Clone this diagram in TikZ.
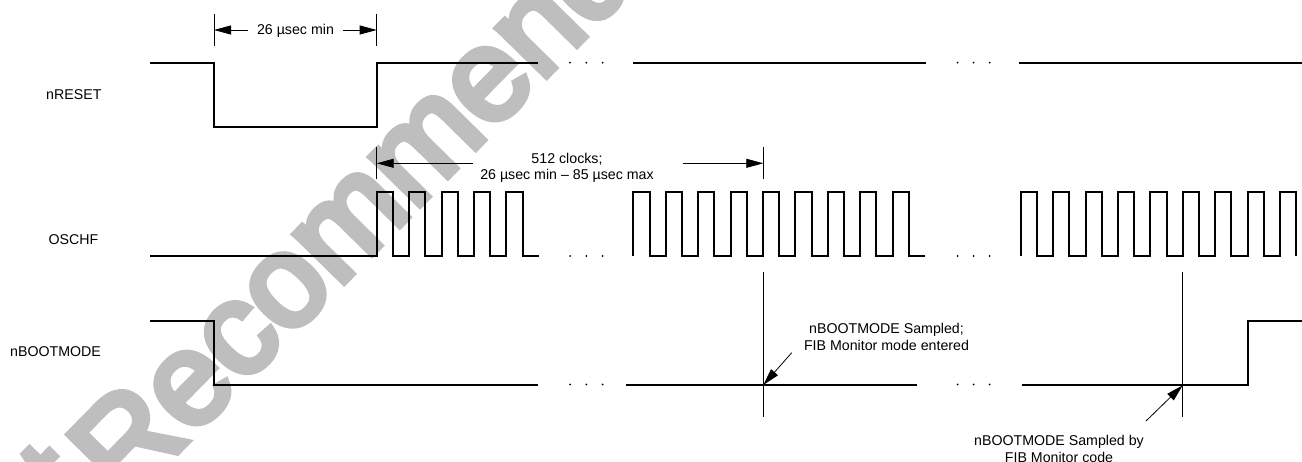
\documentclass[tikz,border=0pt]{standalone}
\usepackage{fontspec}
\setmainfont{Liberation Sans}
\usetikzlibrary{arrows.meta}
\definecolor{wmgray}{RGB}{190,190,190}
\newcommand{\wmon}{\special{pdf:literal direct 2 Tr 7 w}}
\newcommand{\wmoff}{\special{pdf:literal direct 0 Tr 1 w}}
\begin{document}
\begin{tikzpicture}[x=1pt,y=-1pt,
  sig/.style={line width=2pt,line join=miter,line cap=butt},
  thin/.style={line width=0.8pt},
  dimarrow/.style={line width=0.8pt,-{Triangle[length=17pt,width=9pt]}},
  lbl/.style={font=\fontsize{14.2}{16.6}\selectfont,inner sep=0pt,anchor=base west},
  txt/.style={font=\fontsize{14.2}{16.6}\selectfont,inner sep=0pt,anchor=base,align=center},
  wmark/.style={font=\fontsize{130}{130}\selectfont,text=wmgray,inner sep=0pt,rotate=45.5},
  dotm/.style={fill=black}]
\useasboundingbox (0,0) rectangle (1302,462);
% watermark
\node[wmark,anchor=base east] (wm1) at (100,497) {\wmon Not\wmoff};
\node[wmark,anchor=base west] (wm2) at (125,505) {\wmon Recommended\wmoff};
% labels
\node[lbl] (lreset) at (46,99.3) {nRESET};
\node[lbl] (losc) at (48.3,245) {OSCHF};
\node[lbl] (lboot) at (10,357) {nBOOTMODE};
% nRESET
\draw[sig] (150,62.7) -- (214,62.7) -- (214,127) -- (376.7,127) -- (376.7,62.7) -- (537.7,62.7);
\draw[sig] (633.3,62.7) -- (925.7,62.7);
\draw[sig] (1019,62.7) -- (1302,62.7);
% OSCHF
\draw[sig] (150,256) -- (376.7,256) \foreach \i in {1,...,5} { -- ++(0,-64) -- ++(16.2,0) -- ++(0,64) -- ++(16.2,0) };
\draw[sig] (633.3,256) \foreach \i in {1,...,9} { -- ++(0,-64) -- ++(16.2,0) -- ++(0,64) -- ++(16.2,0) };
\draw[sig] (1020.7,256) \foreach \i in {1,...,8} { -- ++(0,-64) -- ++(16.2,0) -- ++(0,64) -- ++(16.2,0) } -- ++(0,-64) -- ++(16.2,0) -- ++(0,64);
% nBOOTMODE
\draw[sig] (150,320.7) -- (214,320.7) -- (214,385) -- (537.7,385);
\draw[sig] (626,385) -- (917,385);
\draw[sig] (1021.7,385) -- (1247.7,385) -- (1247.7,320.7) -- (1302,320.7);
% dots
\foreach \y in {62.7,256,384.5} {
  \foreach \x in {570,586.3,602.6} { \fill[dotm] (\x,\y) circle (1pt); }
  \foreach \x in {957.5,973.5,989.7} { \fill[dotm] (\x,\y) circle (1pt); }
}
% 26 usec min dimension
\coordinate (t1a) at (214,14); \coordinate (t1b) at (214,46);
\coordinate (t2a) at (376.7,14); \coordinate (t2b) at (376.7,46);
\draw[thin] (t1a) -- (t1b);
\draw[thin] (t2a) -- (t2b);
\node[txt] (d1) at (295.5,35) {26 µsec min};
\coordinate (d1l) at (248,30); \coordinate (d1le) at (214,30);
\coordinate (d1r) at (343,30); \coordinate (d1re) at (376.7,30);
\draw[dimarrow] (d1l) -- (d1le);
\draw[dimarrow] (d1r) -- (d1re);
% 512 clocks dimension
\coordinate (t3a) at (376.7,146.7); \coordinate (t3b) at (376.7,179);
\coordinate (t4a) at (763.3,146.7); \coordinate (t4b) at (763.3,179);
\draw[thin] (t3a) -- (t3b);
\draw[thin] (t4a) -- (t4b);
\node[txt] (d2) at (567,180) {512 clocks;\\26 µsec min – 85 µsec max};
\coordinate (d2l) at (473,163.3); \coordinate (d2le) at (376.7,163.3);
\coordinate (d2r) at (682.7,163.3); \coordinate (d2re) at (763.3,163.3);
\draw[dimarrow] (d2l) -- (d2le);
\draw[dimarrow] (d2r) -- (d2re);
% sample markers
\coordinate (m1a) at (763.3,272); \coordinate (m1b) at (763.3,416.7);
\coordinate (m2a) at (1182.7,272); \coordinate (m2b) at (1182.7,416.7);
\draw[thin] (m1a) -- (m1b);
\draw[thin] (m2a) -- (m2b);
% annotations
\node[txt] (a1) at (886.5,350.5) {nBOOTMODE Sampled;\\FIB Monitor mode entered};
\coordinate (a1s) at (791.7,352.7); \coordinate (a1e) at (763.3,385);
\draw[dimarrow] (a1s) -- (a1e);
\node[txt] (a2) at (1059,462.2) {nBOOTMODE Sampled by\\FIB Monitor code};
\coordinate (a2s) at (1146,421); \coordinate (a2e) at (1182.7,385.3);
\draw[dimarrow] (a2s) -- (a2e);
\end{tikzpicture}
\end{document}
